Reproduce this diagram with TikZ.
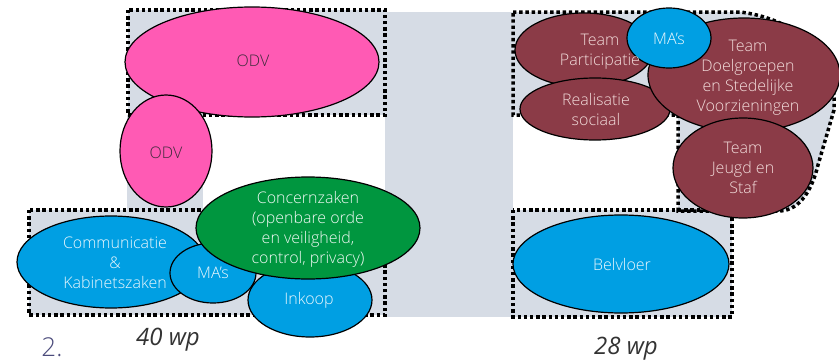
\documentclass[tikz,border=0pt]{standalone}
\usepackage{fontspec}
\setmainfont{Open Sans Light}[ItalicFont=Open Sans Light Italic]
\newfontfamily\capfont{Open Sans}
\usetikzlibrary{shapes.geometric}
\definecolor{odvpink}{HTML}{FF5AB4}
\definecolor{mablue}{HTML}{009FE3}
\definecolor{czgreen}{HTML}{00963F}
\definecolor{teambrown}{HTML}{8B3B47}
\definecolor{vakgray}{HTML}{D6DCE5}
\definecolor{teamtext}{HTML}{F2DCDB}
\definecolor{odvtext}{HTML}{3C2B3A}
\definecolor{numcol}{HTML}{4B4B7B}

\begin{document}
\begin{tikzpicture}[x=1pt,y=-1pt,
    blob/.style={ellipse,draw=black,line width=1.2pt,inner sep=0pt},
    txt/.style={align=center,inner sep=0pt,font=\fontsize{16}{20}\selectfont},
    dotline/.style={line width=3.5pt,dash pattern=on 3.4pt off 2.8pt}]
    \useasboundingbox (0,0) rectangle (839,364);
    % grey floor areas
    \fill[vakgray] (128,10) rectangle (385,115);
    \fill[vakgray] (385,12) rectangle (513,317);
    \fill[vakgray] (127,115) rectangle (203,210);
    \fill[vakgray] (29,210) rectangle (385,315);
    \fill[vakgray] (513,210) rectangle (732,317);
    \fill[vakgray] (513,12) -- (740,12) .. controls (790,18) and (838,50) .. (834,110)
      -- (818,165) .. controls (812,190) and (800,210) .. (780,211) -- (678,211)
      -- (678,115) -- (513,115) -- cycle;
    % dotted borders
    \draw[dotline] (128,10) rectangle (385,115);
    \draw[dotline] (29,210) rectangle (385,315);
    \draw[dotline] (513,210) rectangle (732,317);
    \draw[dotline] (513,12) -- (740,12) .. controls (790,18) and (838,50) .. (834,110)
      -- (818,165) .. controls (812,190) and (800,210) .. (780,211) -- (678,211)
      -- (678,115) -- (513,115) -- cycle;
    % left side
    \node[blob,fill=odvpink,minimum width=254pt,minimum height=110pt] (odvtop) at (252,62) {};
    \node[blob,fill=odvpink,minimum width=92pt,minimum height=112pt] (odvside) at (166,151) {};
    \node[blob,fill=mablue,minimum width=188pt,minimum height=92pt] (comm) at (111,262) {};
    \node[blob,fill=mablue,minimum width=86pt,minimum height=60pt] (maleft) at (213,273) {};
    \node[blob,fill=mablue,minimum width=124pt,minimum height=74pt] (inkoop) at (310,300) {};
    \node[blob,fill=czgreen,minimum width=224pt,minimum height=102pt] (concern) at (308,228) {};
    % right side
    \node[blob,fill=mablue,minimum width=216pt,minimum height=98pt] (belvloer) at (621,264) {};
    \node[blob,fill=teambrown,minimum width=138pt,minimum height=74pt] (particip) at (584,50) {};
    \node[blob,fill=teambrown,minimum width=150pt,minimum height=62pt] (realis) at (595,109) {};
    \node[blob,fill=teambrown,minimum width=192pt,minimum height=114pt] (doelgr) at (744,75) {};
    \node[blob,fill=mablue,minimum width=84pt,minimum height=60pt] (maright) at (669,38) {};
    \node[blob,fill=teambrown,minimum width=140pt,minimum height=100pt] (jeugd) at (743,168) {};
    % texts
    \node[txt,text=odvtext] (odvtoptxt) at (253,61) {ODV};
    \node[txt,text=odvtext] (odvsidetxt) at (166,153) {ODV};
    \node[txt,text=white!92!mablue] (commtxt) at (115,263) {Communicatie\\\&\\Kabinetszaken};
    \node[txt,text=white!92!mablue] (malefttxt) at (213,273) {MA’s};
    \node[txt,text=white!92!mablue] (inkooptxt) at (309,300) {Inkoop};
    \node[txt,text=white!94!czgreen] (concerntxt) at (308,229) {Concernzaken\\(openbare orde\\en veiligheid,\\control, privacy)};
    \node[txt,text=white!92!mablue] (belvloertxt) at (622,264) {Belvloer};
    \node[txt,text=teamtext] (participtxt) at (600,52) {Team\\Participatie};
    \node[txt,text=teamtext] (realistxt) at (596,109) {Realisatie\\sociaal};
    \node[txt,text=teamtext] (doelgrtxt) at (748,78) {Team\\Doelgroepen\\en Stedelijke\\Voorzieningen};
    \node[txt,text=white!92!mablue] (marighttxt) at (669,39) {MA’s};
    \node[txt,text=teamtext] (jeugdtxt) at (743,168) {Team\\Jeugd en\\Staf};
    % captions
    \node[inner sep=0pt,text=numcol,font=\fontsize{26}{30}\selectfont] (nr) at (52,347) {2.};
    \node[inner sep=0pt,text=black!80,font=\capfont\fontsize{24}{28}\selectfont\itshape] (wpleft) at (168,340) {40 wp};
    \node[inner sep=0pt,text=black!80,font=\capfont\fontsize{24}{28}\selectfont\itshape] (wpright) at (626,349) {28 wp};
\end{tikzpicture}
\end{document}
